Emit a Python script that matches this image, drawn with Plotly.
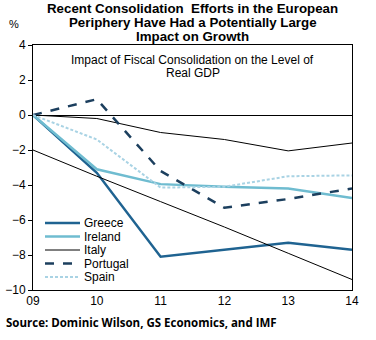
import plotly.graph_objects as go

years = [2009, 2010, 2011, 2012, 2013, 2014]
year_labels = ["09", "10", "11", "12", "13", "14"]

greece = [0.0, -3.3, -8.1, -7.7, -7.3, -7.7]
ireland = [0.0, -3.1, -3.95, -4.1, -4.2, -4.75]
italy = [0.0, -0.2, -1.0, -1.4, -2.05, -1.6]
italy_low = [-2.0, -3.5, -4.95, -6.4, -7.9, -9.4]
portugal = [0.0, 0.9, -3.2, -5.3, -4.8, -4.2]
spain = [0.0, -1.4, -4.15, -4.1, -3.5, -3.45]

title_lines = ["Recent Consolidation  Efforts in the European",
               "Periphery Have Had a Potentially Large",
               "Impact on Growth"]
subtitle_lines = ["Impact of Fiscal Consolidation on the Level of",
                  "Real GDP"]

series = [
    ("Greece", greece, dict(color="#1f6391", width=2.5)),
    ("Ireland", ireland, dict(color="#6fbcd0", width=2.5)),
    ("Italy", italy, dict(color="#000000", width=1)),
    ("Portugal", portugal, dict(color="#1c3f5e", width=2.5, dash="dash")),
    ("Spain", spain, dict(color="#a9d3e4", width=2, dash="3px,2px")),
]

fig = go.Figure()
for name, vals, line in series:
    fig.add_trace(go.Scatter(x=years, y=vals, name=name, mode="lines",
                             line=line, showlegend=False))
fig.add_trace(go.Scatter(x=years, y=italy_low, name="Italy", mode="lines",
                         showlegend=False, line=dict(color="#000000", width=1)))

# compact legend: line samples and labels in paper coordinates
plot_left, plot_w = 33, 319
plot_bottom, plot_h = 290, 245
plot_top = plot_bottom - plot_h
legend_rows = [223, 236.5, 250, 263.5, 277]
shapes = []
annotations = []
for (name, _, line), row in zip(series, legend_rows):
    yp = (plot_bottom - row) / plot_h
    shapes.append(dict(type="line", xref="paper", yref="paper",
                       x0=(45 - plot_left) / plot_w, x1=(80 - plot_left) / plot_w,
                       y0=yp, y1=yp, line=line))
    annotations.append(dict(text=name, xref="paper", yref="paper",
                            x=(82 - plot_left) / plot_w, y=yp, xanchor="left",
                            yanchor="middle", showarrow=False,
                            font=dict(size=12)))

# title, one annotation per line for tight line spacing
for i, txt in enumerate(title_lines):
    annotations.append(dict(text="<b>" + txt + "</b>", xref="paper", yref="paper",
                            x=0.5, y=1.0, xanchor="center", yanchor="middle",
                            yshift=plot_top - (8.5 + 14 * i),
                            showarrow=False, font=dict(size=13.3)))

# boxed subtitle inside the plot area
for i, txt in enumerate(subtitle_lines):
    annotations.append(dict(text=txt, xref="paper", yref="paper",
                            x=0.5, y=1.0, xanchor="center", yanchor="middle",
                            yshift=plot_top - (60 + 13 * i),
                            showarrow=False, font=dict(size=12)))

annotations += [
    dict(text="%", xref="paper", yref="paper", x=-0.06, y=1.0,
         xanchor="center", yanchor="middle", yshift=21, showarrow=False,
         font=dict(size=11)),
    dict(text="<b>Source: Dominic Wilson, GS Economics, and IMF</b>",
         xref="paper", yref="paper", x=(4 - plot_left) / plot_w, y=0,
         xanchor="left", yanchor="middle", yshift=-32, showarrow=False,
         font=dict(family="Open Sans, sans-serif", size=11.5)),
]

fig.update_layout(
    width=376, height=340,
    margin=dict(l=33, r=24, t=45, b=50),
    paper_bgcolor="white", plot_bgcolor="white",
    font=dict(family="Arial, Liberation Sans, sans-serif", color="#000000", size=12),
    showlegend=False,
    shapes=shapes,
    annotations=annotations,
    xaxis=dict(range=[2009, 2014], tickvals=years, ticktext=year_labels,
               showgrid=False, zeroline=False, showline=True, linecolor="#000000",
               linewidth=1, mirror=True, ticks="", tickfont=dict(size=12),
               automargin=False),
    yaxis=dict(range=[-10, 4], dtick=2, showgrid=False, zeroline=True,
               zerolinecolor="#000000", zerolinewidth=1,
               showline=True, linecolor="#000000", linewidth=1, mirror=True,
               ticks="outside", ticklen=4, tickcolor="#000000",
               tickfont=dict(size=12), automargin=False),
)

fig.write_html("out.html")
